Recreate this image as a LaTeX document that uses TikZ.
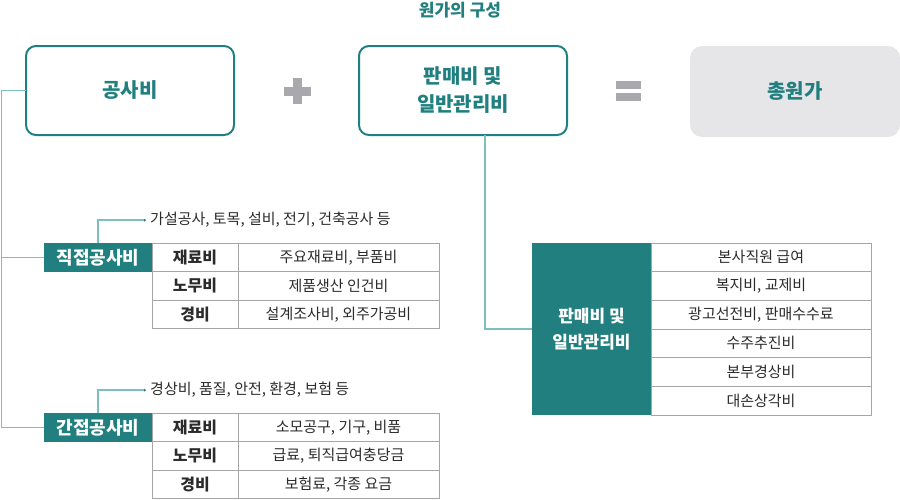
\documentclass[tikz,border=0pt]{standalone}
\usepackage{fontspec}
\setmainfont{Noto Sans CJK KR}
\definecolor{teal1}{HTML}{21807F}
\definecolor{lteal}{HTML}{7DBFBF}
\definecolor{gbox}{HTML}{E6E6E8}
\definecolor{gsym}{HTML}{A9A9AD}
\definecolor{tline}{HTML}{A6A6A6}
\definecolor{txt}{HTML}{2B2B2B}
\begin{document}
\begin{tikzpicture}[x=1pt,y=-1pt,
  mainbox/.style={draw=teal1, line width=2pt, rounded corners=10pt, minimum width=208pt, minimum height=89pt, anchor=north west, text=teal1, font=\fontsize{20}{28}\selectfont\bfseries, align=center, inner sep=0pt, outer sep=0pt},
  totbox/.style={fill=gbox, rounded corners=12pt, minimum width=210pt, minimum height=91pt, anchor=north west, text=teal1, font=\fontsize{20}{28}\selectfont\bfseries, inner sep=0pt, outer sep=0pt},
  lab/.style={fill=teal1, text=white, font=\fontsize{18}{24}\selectfont\bfseries, anchor=north west, inner sep=0pt, outer sep=0pt, align=center},
  hcell/.style={draw=tline, line width=0.8pt, anchor=north west, minimum width=86pt, minimum height=28.33pt, inner sep=0pt, outer sep=0pt, text=txt, font=\fontsize{16}{18}\selectfont\bfseries},
  ccell/.style={draw=tline, line width=0.8pt, anchor=north west, minimum width=201pt, minimum height=28.33pt, inner sep=0pt, outer sep=0pt, text=txt, font=\fontsize{15}{18}\selectfont},
  rcell/.style={draw=tline, line width=0.8pt, anchor=north west, minimum width=220pt, minimum height=28.67pt, inner sep=0pt, outer sep=0pt, text=txt, font=\fontsize{15}{18}\selectfont},
  note/.style={anchor=west, text=txt, font=\fontsize{15}{18}\selectfont, inner sep=0pt},
  conn/.style={draw=lteal, line width=1.2pt},
  dotmark/.style={circle, fill=teal1, inner sep=0pt, minimum size=2.5pt}
]
\useasboundingbox (0,0) rectangle (900,499);

% title
\node[text=teal1, font=\fontsize{17}{20}\selectfont\bfseries] (title) at (460,10) {원가의 구성};

% top boxes
\node[mainbox] (gong) at (26,46) {공사비};
\node[mainbox] (sales) at (359,46) {판매비 및\\일반관리비};
\node[totbox] (total) at (690,46) {총원가};

% plus and equals
\fill[gsym] (284,87) rectangle (311,96);
\fill[gsym] (293,78) rectangle (302,104);
\fill[gsym] (616,81) rectangle (641,89);
\fill[gsym] (616,93) rectangle (641,101);

% direct cost
\node[lab, minimum width=108pt, minimum height=29pt] (direct) at (44,243) {직접공사비};
\node[hcell] (d1h) at (152,243.5) {재료비};
\node[ccell] (d1c) at (238,243.5) {주요재료비, 부품비};
\node[hcell] (d2h) at (152,271.83) {노무비};
\node[ccell] (d2c) at (238,271.83) {제품생산 인건비};
\node[hcell] (d3h) at (152,300.17) {경비};
\node[ccell] (d3c) at (238,300.17) {설계조사비, 외주가공비};

% indirect cost
\node[lab, minimum width=108pt, minimum height=29pt] (indirect) at (44,413) {간접공사비};
\node[hcell] (i1h) at (152,413.5) {재료비};
\node[ccell] (i1c) at (238,413.5) {소모공구, 기구, 비품};
\node[hcell] (i2h) at (152,441.83) {노무비};
\node[ccell] (i2c) at (238,441.83) {급료, 퇴직급여충당금};
\node[hcell] (i3h) at (152,470.17) {경비};
\node[ccell] (i3c) at (238,470.17) {보험료, 각종 요금};

% notes
\node[dotmark] (dotD) at (144.5,220) {};
\node[note] (noteD) at (150,220) {가설공사, 토목, 설비, 전기, 건축공사 등};
\node[dotmark] (dotI) at (144.5,390) {};
\node[note] (noteI) at (150,390) {경상비, 품질, 안전, 환경, 보험 등};

% sales table
\node[lab, minimum width=119pt, minimum height=172pt, font=\fontsize{17}{26}\selectfont\bfseries] (slabel) at (532,243) {판매비 및\\일반관리비};
\node[rcell] (s1) at (651,243) {본사직원 급여};
\node[rcell] (s2) at (651,271.67) {복지비, 교제비};
\node[rcell] (s3) at (651,300.33) {광고선전비, 판매수수료};
\node[rcell] (s4) at (651,329) {수주추진비};
\node[rcell] (s5) at (651,357.67) {본부경상비};
\node[rcell] (s6) at (651,386.33) {대손상각비};

% connectors
\coordinate (spine) at (1.5,0);
\draw[conn] (gong.west) -| (spine |- indirect.west) -- (indirect.west);
\draw[conn] (spine |- direct.west) -- (direct.west);
\draw[conn] (direct.north) |- (dotD);
\draw[conn] (indirect.north) |- (dotI);
\coordinate (sdrop) at (485,0);
\draw[conn] (sdrop |- sales.south) |- (slabel.west);
\node[dotmark] at (dotD) {};
\node[dotmark] at (dotI) {};
\end{tikzpicture}
\end{document}
